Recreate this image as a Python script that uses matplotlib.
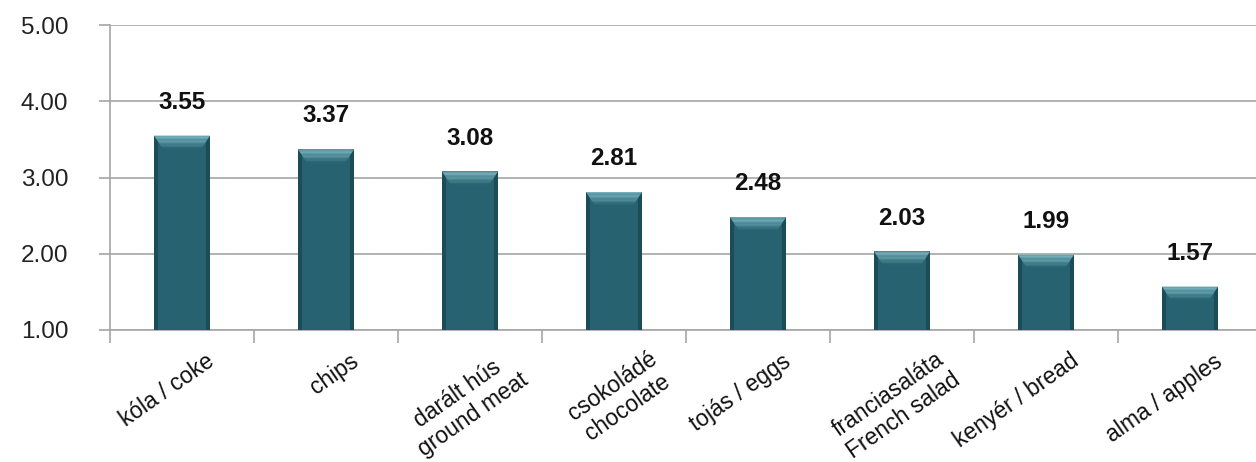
#!/usr/bin/env python3
# -*- coding: utf-8 -*-

import numpy as np
from matplotlib import pyplot as plt
from matplotlib import transforms
from matplotlib.colors import to_rgb

plt.rcParams['font.family'] = ['Liberation Sans', 'DejaVu Sans']

labels = ['kóla / coke', 'chips', 'darált hús\nground meat', 'csokoládé\nchocolate',
          'tojás / eggs', 'franciasaláta\nFrench salad', 'kenyér / bread', 'alma / apples']
values = [3.55, 3.37, 3.08, 2.81, 2.48, 2.03, 1.99, 1.57]
yticks = [1.0, 2.0, 3.0, 4.0, 5.0]

BAR_W = 0.39
BASE = '#1b4c58'
FACE = '#266270'
BEVEL_TOP = '#74b1bb'
GRID = '#a6a6a6'


def draw_bevel_bar(ax, x, top, bottom):
    # dark outer body, lighter core, and a shaded bevel across the top
    ax.bar(x, top - bottom, bottom=bottom, width=BAR_W, color=BASE, zorder=3)
    side = 0.025
    ax.bar(x, top - bottom, bottom=bottom, width=BAR_W - 2 * side,
           color=FACE, zorder=4)
    bh = 0.17
    inset = 0.06
    xl, xr = x - BAR_W / 2, x + BAR_W / 2
    c0 = np.array(to_rgb(BEVEL_TOP))
    c1 = np.array(to_rgb(FACE))
    n = 10
    for i in range(n):
        f0, f1 = i / n, (i + 1) / n
        y0, y1 = top - bh * f0, top - bh * f1
        t = ((f0 + f1) / 2) ** 1.6
        col = c0 + (c1 - c0) * t
        ax.fill([xl + inset * f0, xr - inset * f0, xr - inset * f1, xl + inset * f1],
                [y0, y0, y1, y1], color=col, zorder=5, lw=0)


def plot_data():
    fig = plt.figure(figsize=(12.56, 4.62), dpi=100)
    ax = fig.add_axes([110 / 1256, 1 - 330 / 462, 1152 / 1256, 305 / 462])

    x = np.arange(len(values))
    for xi, v in zip(x, values):
        draw_bevel_bar(ax, xi, v, yticks[0])
        ax.annotate(f'{v:.2f}', (xi, v), xytext=(0, 24), textcoords='offset points',
                    ha='center', va='center', fontsize=17.5, fontweight='bold',
                    color='#111111', zorder=7)

    ax.set_xlim(-0.5, len(values) - 0.5)
    ax.set_ylim(yticks[0], yticks[-1])
    ax.set_yticks(yticks)
    ax.set_yticklabels([f'{t:.2f}' for t in yticks], fontsize=17.5, color='#222222')
    ax.yaxis.grid(True, color=GRID, lw=1.2, zorder=0)
    ax.tick_params(axis='y', length=8, color=GRID, width=1.2, pad=22)

    ax.set_xticks(np.arange(len(values) + 1) - 0.5)
    ax.set_xticklabels([])
    ax.tick_params(axis='x', length=9, color=GRID, width=1.2)

    for s in ['top', 'right']:
        ax.spines[s].set_visible(False)
    for s in ['left', 'bottom']:
        ax.spines[s].set_color(GRID)
        ax.spines[s].set_linewidth(1.2)

    # rotated category names hang off the right end under each bar
    for xi, lab in zip(x, labels):
        nl = lab.count('\n') + 1
        off = transforms.ScaledTranslation((30 + 18 * (nl - 1)) / 100,
                                           -(29 + 8 * (nl - 1)) / 100,
                                           fig.dpi_scale_trans)
        ax.text(xi, yticks[0], lab, transform=ax.transData + off,
                rotation=35, rotation_mode='anchor', ha='right', va='center',
                multialignment='center', fontsize=16.5, color='#111111',
                linespacing=1.15)

    fig.savefig('out.png', dpi=100)


def main():
    plot_data()


if __name__ == "__main__":
    main()
